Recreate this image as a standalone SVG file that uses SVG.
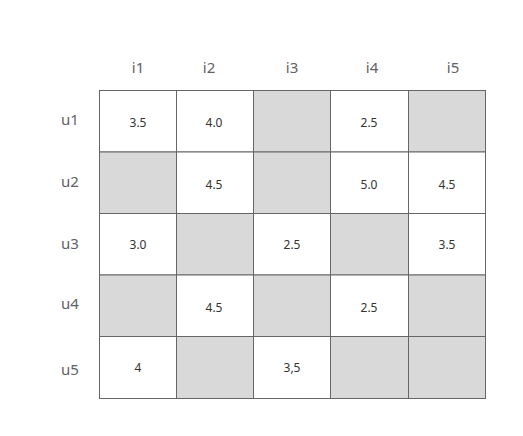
<svg xmlns="http://www.w3.org/2000/svg" width="523" height="436" viewBox="0 0 523 436">
<style>
.hd{font-family:"Noto Sans","Open Sans",sans-serif;font-size:15px;fill:#5f6168;text-anchor:middle;dominant-baseline:central}
.v{font-family:"Noto Sans","Open Sans",sans-serif;font-size:12px;fill:#333;text-anchor:middle;dominant-baseline:central}
.w{fill:#fff;stroke:#666;stroke-width:1}
.g{fill:#d9d9d9;stroke:#666;stroke-width:1}
</style>
<rect width="523" height="436" fill="#fff"/>
<g id="col-headers">
<text class="hd" x="138" y="67">i1</text>
<text class="hd" x="209" y="67">i2</text>
<text class="hd" x="292" y="67">i3</text>
<text class="hd" x="372" y="67">i4</text>
<text class="hd" x="453" y="67">i5</text>
</g>
<g id="row-headers">
<text class="hd" x="70" y="119">u1</text>
<text class="hd" x="70" y="181">u2</text>
<text class="hd" x="70" y="243">u3</text>
<text class="hd" x="70" y="303">u4</text>
<text class="hd" x="70" y="369">u5</text>
</g>
<g id="row1">
<rect class="w" x="99.5" y="90.5" width="77" height="61.5"/>
<rect class="w" x="176.5" y="90.5" width="77" height="61.5"/>
<rect class="g" x="253.5" y="90.5" width="77" height="61.5"/>
<rect class="w" x="330.5" y="90.5" width="78" height="61.5"/>
<rect class="g" x="408.5" y="90.5" width="77" height="61.5"/>
<text class="v" x="138" y="122">3.5</text>
<text class="v" x="214" y="122">4.0</text>
<text class="v" x="369" y="122">2.5</text>
</g>
<g id="row2">
<rect class="g" x="99.5" y="152" width="77" height="61.5"/>
<rect class="w" x="176.5" y="152" width="77" height="61.5"/>
<rect class="g" x="253.5" y="152" width="77" height="61.5"/>
<rect class="w" x="330.5" y="152" width="78" height="61.5"/>
<rect class="w" x="408.5" y="152" width="77" height="61.5"/>
<text class="v" x="214" y="184">4.5</text>
<text class="v" x="369" y="184">5.0</text>
<text class="v" x="447" y="184">4.5</text>
</g>
<g id="row3">
<rect class="w" x="99.5" y="213.5" width="77" height="61.5"/>
<rect class="g" x="176.5" y="213.5" width="77" height="61.5"/>
<rect class="w" x="253.5" y="213.5" width="77" height="61.5"/>
<rect class="g" x="330.5" y="213.5" width="78" height="61.5"/>
<rect class="w" x="408.5" y="213.5" width="77" height="61.5"/>
<text class="v" x="138" y="244">3.0</text>
<text class="v" x="292" y="244">2.5</text>
<text class="v" x="447" y="244">3.5</text>
</g>
<g id="row4">
<rect class="g" x="99.5" y="275" width="77" height="61.5"/>
<rect class="w" x="176.5" y="275" width="77" height="61.5"/>
<rect class="g" x="253.5" y="275" width="77" height="61.5"/>
<rect class="w" x="330.5" y="275" width="78" height="61.5"/>
<rect class="g" x="408.5" y="275" width="77" height="61.5"/>
<text class="v" x="214" y="307">4.5</text>
<text class="v" x="369" y="307">2.5</text>
</g>
<g id="row5">
<rect class="w" x="99.5" y="336.5" width="77" height="62"/>
<rect class="g" x="176.5" y="336.5" width="77" height="62"/>
<rect class="w" x="253.5" y="336.5" width="77" height="62"/>
<rect class="g" x="330.5" y="336.5" width="78" height="62"/>
<rect class="g" x="408.5" y="336.5" width="77" height="62"/>
<text class="v" x="138" y="367">4</text>
<text class="v" x="292" y="367">3,5</text>
</g>
<g id="connectors"></g>
</svg>
